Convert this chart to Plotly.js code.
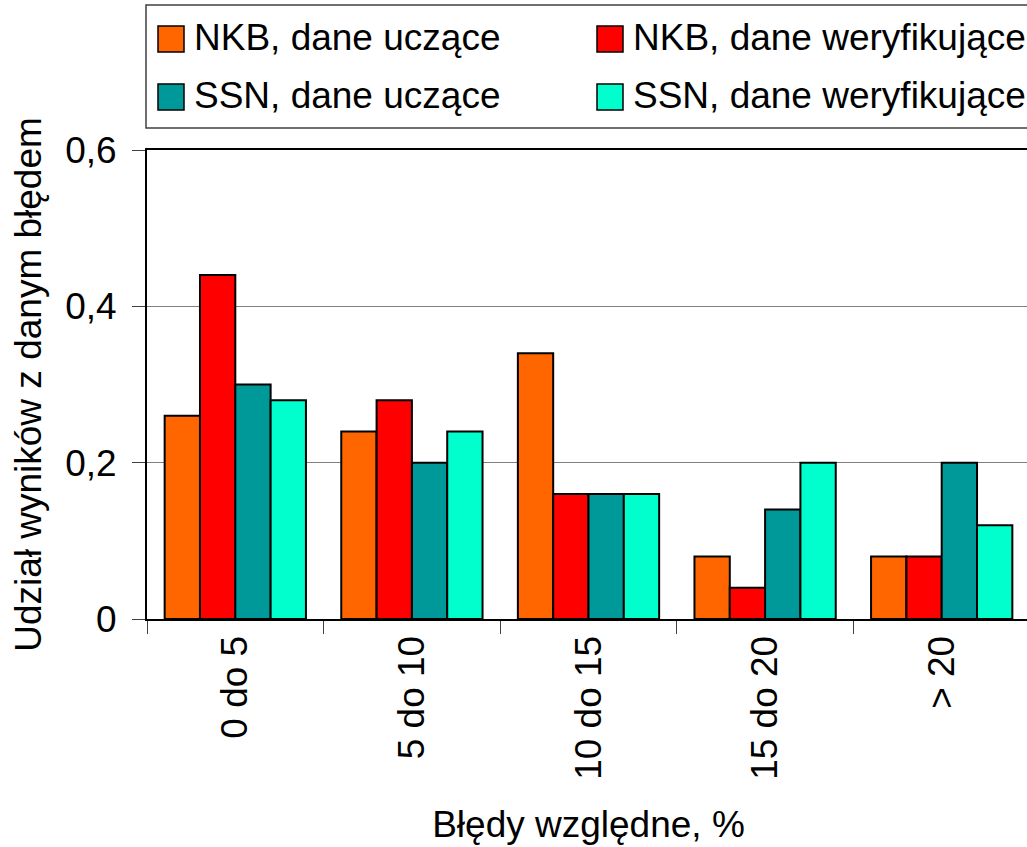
<!DOCTYPE html>
<html>
<head>
<meta charset="utf-8">
<script src="https://cdn.plot.ly/plotly-3.0.1.min.js"></script>
<style>
html,body{margin:0;padding:0;overflow:hidden;background:#fff;}
#chart{width:1032px;height:847px;}
</style>
</head>
<body>
<div id="chart"></div>
<script>
// ---- data ----
const categories = ["0 do 5", "5 do 10", "10 do 15", "15 do 20", "> 20"];
const seriesNames = ["NKB, dane uczące", "NKB, dane weryfikujące", "SSN, dane uczące", "SSN, dane weryfikujące"];
const nkbTrain = [0.26, 0.24, 0.34, 0.08, 0.08];
const nkbTest  = [0.44, 0.28, 0.16, 0.04, 0.08];
const ssnTrain = [0.30, 0.20, 0.16, 0.14, 0.20];
const ssnTest  = [0.28, 0.24, 0.16, 0.20, 0.12];
const seriesColors = ["#FF6600", "#FF0000", "#009999", "#00FFCC"];
const yTickVals = [0, 0.2, 0.4, 0.6];
const xTitle = "Błędy względne, %";
const yTitle = "Udział wyników z danym błędem";

const seriesValues = [nkbTrain, nkbTest, ssnTrain, ssnTest];
const FONT = "Liberation Sans, Arial, sans-serif";

const traces = seriesValues.map((vals, i) => ({
  type: "bar",
  name: seriesNames[i],
  x: categories,
  y: vals,
  marker: {color: seriesColors[i], line: {color: "#000", width: 2}},
  showlegend: false,
  hoverinfo: "x+y+name"
}));

// layout geometry
const L = 147, R = 2, T = 150, B = 228, W = 1032, H = 847;
const PW = W - L - R, PH = H - T - B;
const px = x => (x - L) / PW;
const py = y => (H - B - y) / PH;

// manual legend (box + swatches + labels)
const shapes = [{
  type: "rect", xref: "paper", yref: "paper",
  x0: px(146), x1: px(1045), y0: py(5), y1: py(128),
  line: {color: "#404040", width: 1.5}, fillcolor: "rgba(0,0,0,0)", layer: "above"
}];
const annotations = [];
const colX = [158, 597];
const rowY = [26, 84];
seriesNames.forEach((nm, i) => {
  const c = i % 2, r = Math.floor(i / 2);
  shapes.push({
    type: "rect", xref: "paper", yref: "paper",
    x0: px(colX[c]), x1: px(colX[c] + 26), y0: py(rowY[r]), y1: py(rowY[r] + 26),
    fillcolor: seriesColors[i], line: {color: "#000", width: 1.5}, layer: "above"
  });
  annotations.push({
    xref: "paper", yref: "paper", x: px(colX[c] + 34), y: py(rowY[r] + 11),
    xanchor: "left", yanchor: "middle", showarrow: false,
    text: nm, font: {family: FONT, size: 37, color: "#000"}
  });
});

const layout = {
  width: W, height: H,
  margin: {l: L, r: R, t: T, b: B, pad: 0},
  paper_bgcolor: "#fff", plot_bgcolor: "#fff",
  separators: ", ",
  font: {family: FONT, size: 37, color: "#000"},
  barmode: "group", bargap: 0.2, bargroupgap: 0,
  showlegend: false,
  xaxis: {
    type: "category", range: [-0.5, 4.5],
    tickson: "boundaries", ticks: "outside", ticklen: 13, tickwidth: 1, tickcolor: "#404040",
    tickangle: -90, tickfont: {family: FONT, size: 37, color: "#000"},
    showgrid: false, showline: true, linecolor: "#000", linewidth: 2, mirror: true,
    title: {text: xTitle, font: {family: FONT, size: 37, color: "#000"}, standoff: 32},
    automargin: false
  },
  yaxis: {
    range: [0, 0.6], tickvals: yTickVals, ticks: "outside", ticklen: 13, tickwidth: 1, tickcolor: "#404040",
    tickfont: {family: FONT, size: 37, color: "#000"}, ticklabelstandoff: 8,
    showgrid: true, gridcolor: "#808080", gridwidth: 1, zeroline: false,
    showline: true, linecolor: "#000", linewidth: 2, mirror: true,
    title: {text: yTitle, font: {family: FONT, size: 37, color: "#000"}, standoff: 12},
    automargin: false
  },
  shapes: shapes,
  annotations: annotations
};

Plotly.newPlot("chart", traces, layout, {displayModeBar: false, responsive: false});
</script>
</body>
</html>
